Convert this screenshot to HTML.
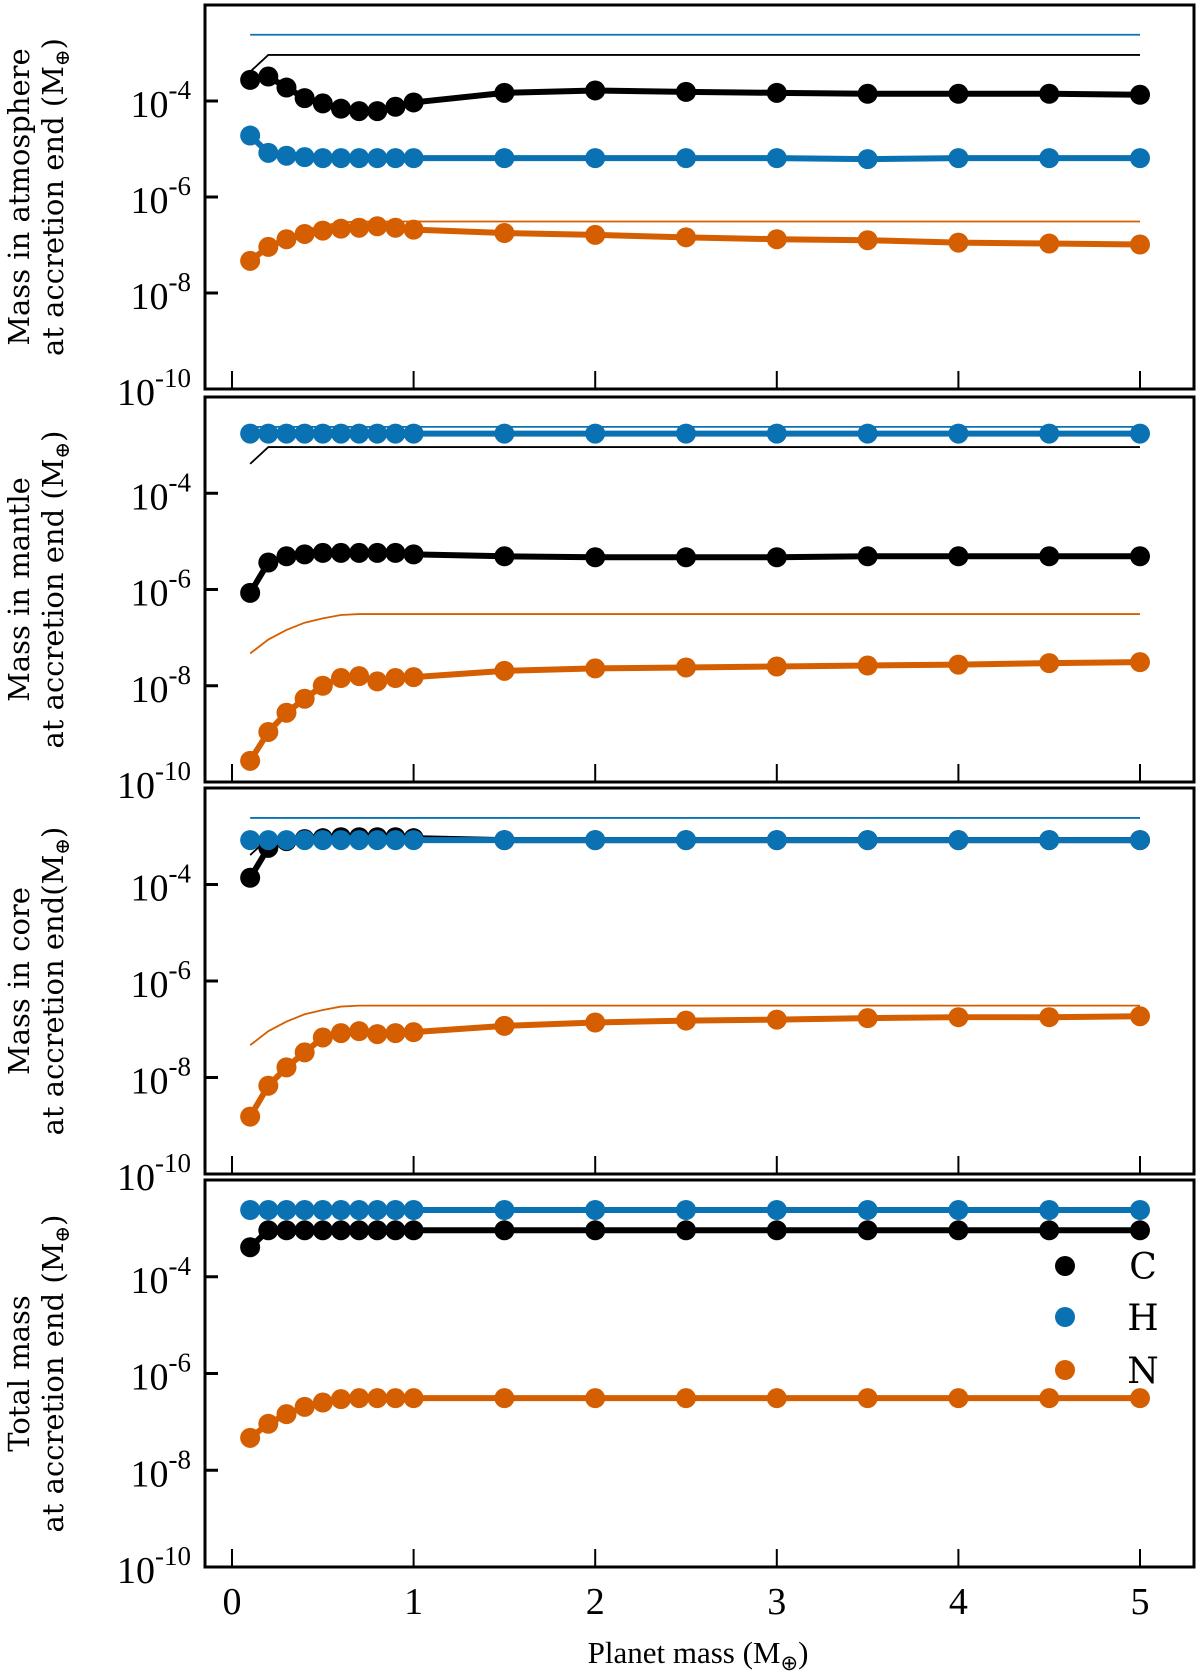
<!DOCTYPE html>
<html><head><meta charset="utf-8"><style>
html,body{margin:0;padding:0;background:#fff;}
svg{display:block;}
text{font-family:"DejaVu Serif","Liberation Serif",serif;}
.tick{font-family:"Liberation Serif",serif;font-size:38px;}
</style></head><body>
<svg id="chart" width="1200" height="1676" viewBox="0 0 1200 1676" xmlns="http://www.w3.org/2000/svg"></svg>
<script>
const masses = [0.1,0.2,0.3,0.4,0.5,0.6,0.7,0.8,0.9,1.0,1.5,2.0,2.5,3.0,3.5,4.0,4.5,5.0];
const panelLabels = [["Mass in atmosphere","at accretion end (M","\u2295",")"],["Mass in mantle","at accretion end (M","\u2295",")"],["Mass in core","at accretion end(M","\u2295",")"],["Total mass","at accretion end (M","\u2295",")"]];
const yTicks = [-10,-8,-6,-4];
const xTicks = [0,1,2,3,4,5];
// log10 values
const atmC = [-3.56,-3.49,-3.72,-3.94,-4.05,-4.16,-4.21,-4.21,-4.12,-4.03,-3.83,-3.78,-3.81,-3.83,-3.85,-3.85,-3.85,-3.87];
const atmH = [-4.72,-5.08,-5.14,-5.17,-5.19,-5.19,-5.19,-5.19,-5.19,-5.19,-5.19,-5.19,-5.19,-5.19,-5.21,-5.19,-5.19,-5.19];
const atmN = [-7.33,-7.04,-6.88,-6.77,-6.70,-6.66,-6.64,-6.61,-6.64,-6.68,-6.75,-6.79,-6.84,-6.88,-6.90,-6.95,-6.97,-6.99];
const manC = [-6.07,-5.44,-5.31,-5.27,-5.24,-5.24,-5.24,-5.24,-5.24,-5.27,-5.31,-5.33,-5.33,-5.33,-5.31,-5.31,-5.31,-5.31];
const manH = [-2.76,-2.76,-2.76,-2.76,-2.76,-2.76,-2.76,-2.76,-2.76,-2.76,-2.76,-2.76,-2.76,-2.76,-2.76,-2.76,-2.76,-2.76];
const manN = [-9.56,-8.96,-8.56,-8.27,-8.00,-7.84,-7.80,-7.91,-7.84,-7.82,-7.69,-7.64,-7.62,-7.60,-7.58,-7.56,-7.53,-7.51];
const corC = [-3.86,-3.24,-3.10,-3.06,-3.04,-3.02,-3.02,-3.02,-3.02,-3.04,-3.08,-3.08,-3.08,-3.08,-3.08,-3.08,-3.08,-3.08];
const corH = [-3.08,-3.08,-3.08,-3.08,-3.08,-3.08,-3.08,-3.08,-3.08,-3.08,-3.08,-3.08,-3.08,-3.08,-3.08,-3.08,-3.08,-3.08];
const corN = [-8.81,-8.17,-7.79,-7.48,-7.17,-7.08,-7.04,-7.10,-7.08,-7.06,-6.93,-6.86,-6.82,-6.80,-6.77,-6.75,-6.75,-6.73];
const totC = [-3.39,-3.04,-3.04,-3.04,-3.04,-3.04,-3.04,-3.04,-3.04,-3.04,-3.04,-3.04,-3.04,-3.04,-3.04,-3.04,-3.04,-3.04];
const totH = [-2.62,-2.62,-2.62,-2.62,-2.62,-2.62,-2.62,-2.62,-2.62,-2.62,-2.62,-2.62,-2.62,-2.62,-2.62,-2.62,-2.62,-2.62];
const totN = [-7.33,-7.04,-6.84,-6.69,-6.60,-6.53,-6.51,-6.51,-6.51,-6.51,-6.51,-6.51,-6.51,-6.51,-6.51,-6.51,-6.51,-6.51];
const seriesNames = ["C","H","N"];
const colors = {C:"#000000",H:"#0a72b2",N:"#d55e00"};
const panelData = [[atmC,atmH,atmN],[manC,manH,manN],[corC,corH,corN],[totC,totH,totN]];
const refData = [totC,totH,totN];

const NS="http://www.w3.org/2000/svg";
const svg=document.getElementById('chart');
function el(tag,attrs,parent){const e=document.createElementNS(NS,tag);for(const k in attrs)e.setAttribute(k,attrs[k]);(parent||svg).appendChild(e);return e;}
const L=205,R=1194;
const tops=[5,397,788,1180], bots=[389,782,1174,1567];
const xs=v=>232+181.6*v;
panelData.forEach((pd,pi)=>{
  const T=tops[pi],B=bots[pi];
  const ys=v=>B-(v+10)/8*(B-T);
  const g=el('g',{});
  
  
  refData.forEach((arr,si)=>{
    const p=el('polyline',{points:arr.map((v,i)=>xs(masses[i])+','+ys(v)).join(' '),fill:'none',stroke:colors[seriesNames[si]],'stroke-width':1.8},g);
    
    
  });
  pd.forEach((arr,si)=>{
    const c=colors[seriesNames[si]];
    const sg=el('g',{},g);
    
    
    el('polyline',{points:arr.map((v,i)=>xs(masses[i])+','+ys(v)).join(' '),fill:'none',stroke:c,'stroke-width':6,'stroke-linejoin':'round'},sg);
    arr.forEach((v,i)=>{
      const m=el('circle',{cx:xs(masses[i]),cy:ys(v),r:10,fill:c},sg);
      
      
    });
  });
  const fr=el('rect',{x:L,y:T,width:R-L,height:B-T,fill:'none',stroke:'#000','stroke-width':3},g);
  
  
  yTicks.forEach(t=>{
    const y=ys(t);
    el('line',{x1:L,x2:L+13,y1:y,y2:y,stroke:'#000','stroke-width':3},g);
    const tx=el('text',{x:L-14,y:y+16,'text-anchor':'end',class:'tick'},g);
    
    
    tx.textContent='10';
    const sp=el('tspan',{dy:-18,'font-size':27},tx);sp.textContent=String(t);
  });
  xTicks.forEach(t=>{
    el('line',{x1:xs(t),x2:xs(t),y1:B,y2:B-18,stroke:'#000','stroke-width':2},g);
  });
  const lab=el('text',{transform:`translate(0,${(T+B)/2}) rotate(-90)`,'text-anchor':'middle','font-size':29},g);
  
  
  const t1=el('tspan',{x:0,y:29},lab);t1.textContent=panelLabels[pi][0];
  const t2=el('tspan',{x:0,y:63},lab);t2.textContent=panelLabels[pi][1];
  const t3=el('tspan',{dy:6,'font-size':20},lab);t3.textContent=panelLabels[pi][2];
  const t4=el('tspan',{dy:-6},lab);t4.textContent=panelLabels[pi][3];
});
xTicks.forEach(t=>{
  const tx=el('text',{x:xs(t),y:1614,'text-anchor':'middle',class:'tick','font-size':34});
  
  
  tx.textContent=String(t);
});
const xl=el('text',{x:698,y:1663,'text-anchor':'middle','font-size':31,style:'font-family:"Liberation Serif",serif'});


xl.textContent='Planet mass (M';
const xs1=el('tspan',{dy:7,'font-size':21},xl);xs1.textContent='\u2295';
const xs2=el('tspan',{dy:-7},xl);xs2.textContent=')';
const lg=el('g',{});


[1266,1317,1370].forEach((y,i)=>{
  const n=seriesNames[i];
  const e=el('g',{},lg);
  
  
  el('circle',{cx:1065,cy:y,r:10,fill:colors[n]},e);
  const t=el('text',{x:1143,y:y+13,'text-anchor':'middle','font-size':36},e);t.textContent=n;
});
</script>
</body></html>
